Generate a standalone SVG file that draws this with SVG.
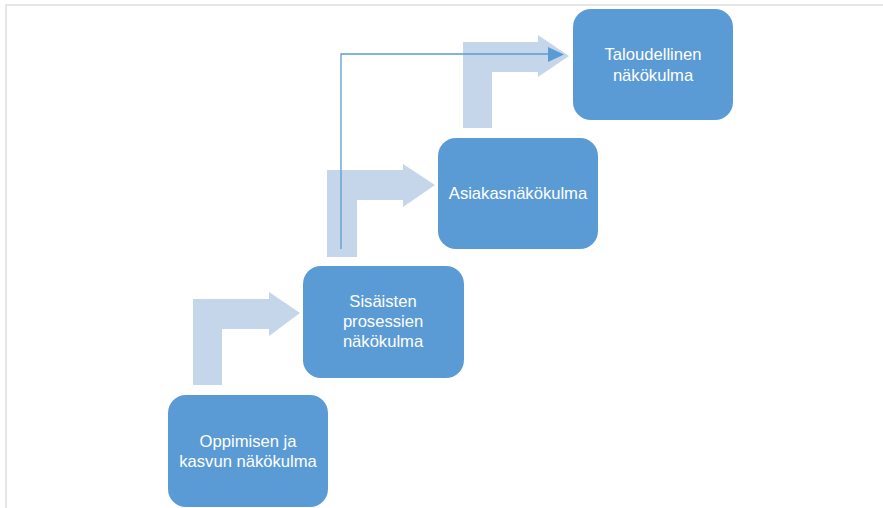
<svg xmlns="http://www.w3.org/2000/svg" width="883" height="508" viewBox="0 0 883 508">
<defs>
<style>
.frame{fill:none;stroke:#E6E6E6;stroke-width:2}
.bent{fill:#C5D5EA;stroke:none}
.box{fill:#5B9BD5;stroke:none}
.lbl{fill:#FFFFFF;font-family:"Liberation Sans",Arial,sans-serif;font-size:16.6px;text-anchor:middle}
.conn{fill:none;stroke:#5B9BD5;stroke-width:1.3}
.head{fill:#5B9BD5}
</style>
</defs>
<rect width="883" height="508" fill="#FFFFFF"/>
<path class="frame" d="M6,508 V5 H883"/>
<g id="bent-arrows">
<polygon class="bent" points="193,385 193,299 269,299 269,292 300,313 269,336 269,329 222,329 222,385"/>
<polygon class="bent" points="327,257 327,170 403,170 403,164 435,185 403,207 403,200 357,200 357,257"/>
<polygon class="bent" points="463,128 463,42 538,42 538,35 569,56 538,77 538,72 492,72 492,128"/>
</g>
<g id="node-oppimisen">
<rect class="box" x="168" y="395" width="160" height="112" rx="18"/>
<text class="lbl" x="248" y="447">Oppimisen ja</text>
<text class="lbl" x="248" y="467">kasvun näkökulma</text>
</g>
<g id="node-sisaisten">
<rect class="box" x="303" y="266" width="161" height="112" rx="18"/>
<text class="lbl" x="383" y="307">Sisäisten</text>
<text class="lbl" x="383" y="327">prosessien</text>
<text class="lbl" x="383" y="347">näkökulma</text>
</g>
<g id="node-asiakas">
<rect class="box" x="438" y="138" width="160" height="111" rx="18"/>
<text class="lbl" x="518" y="199">Asiakasnäkökulma</text>
</g>
<g id="node-taloudellinen">
<rect class="box" x="573" y="9" width="160" height="111" rx="18"/>
<text class="lbl" x="653" y="60">Taloudellinen</text>
<text class="lbl" x="653" y="81">näkökulma</text>
</g>
<g id="connectors">
<path class="conn" d="M341,249 V54 H552"/>
<polygon class="head" points="548,47 564,54.5 548,62"/>
</g>
</svg>
